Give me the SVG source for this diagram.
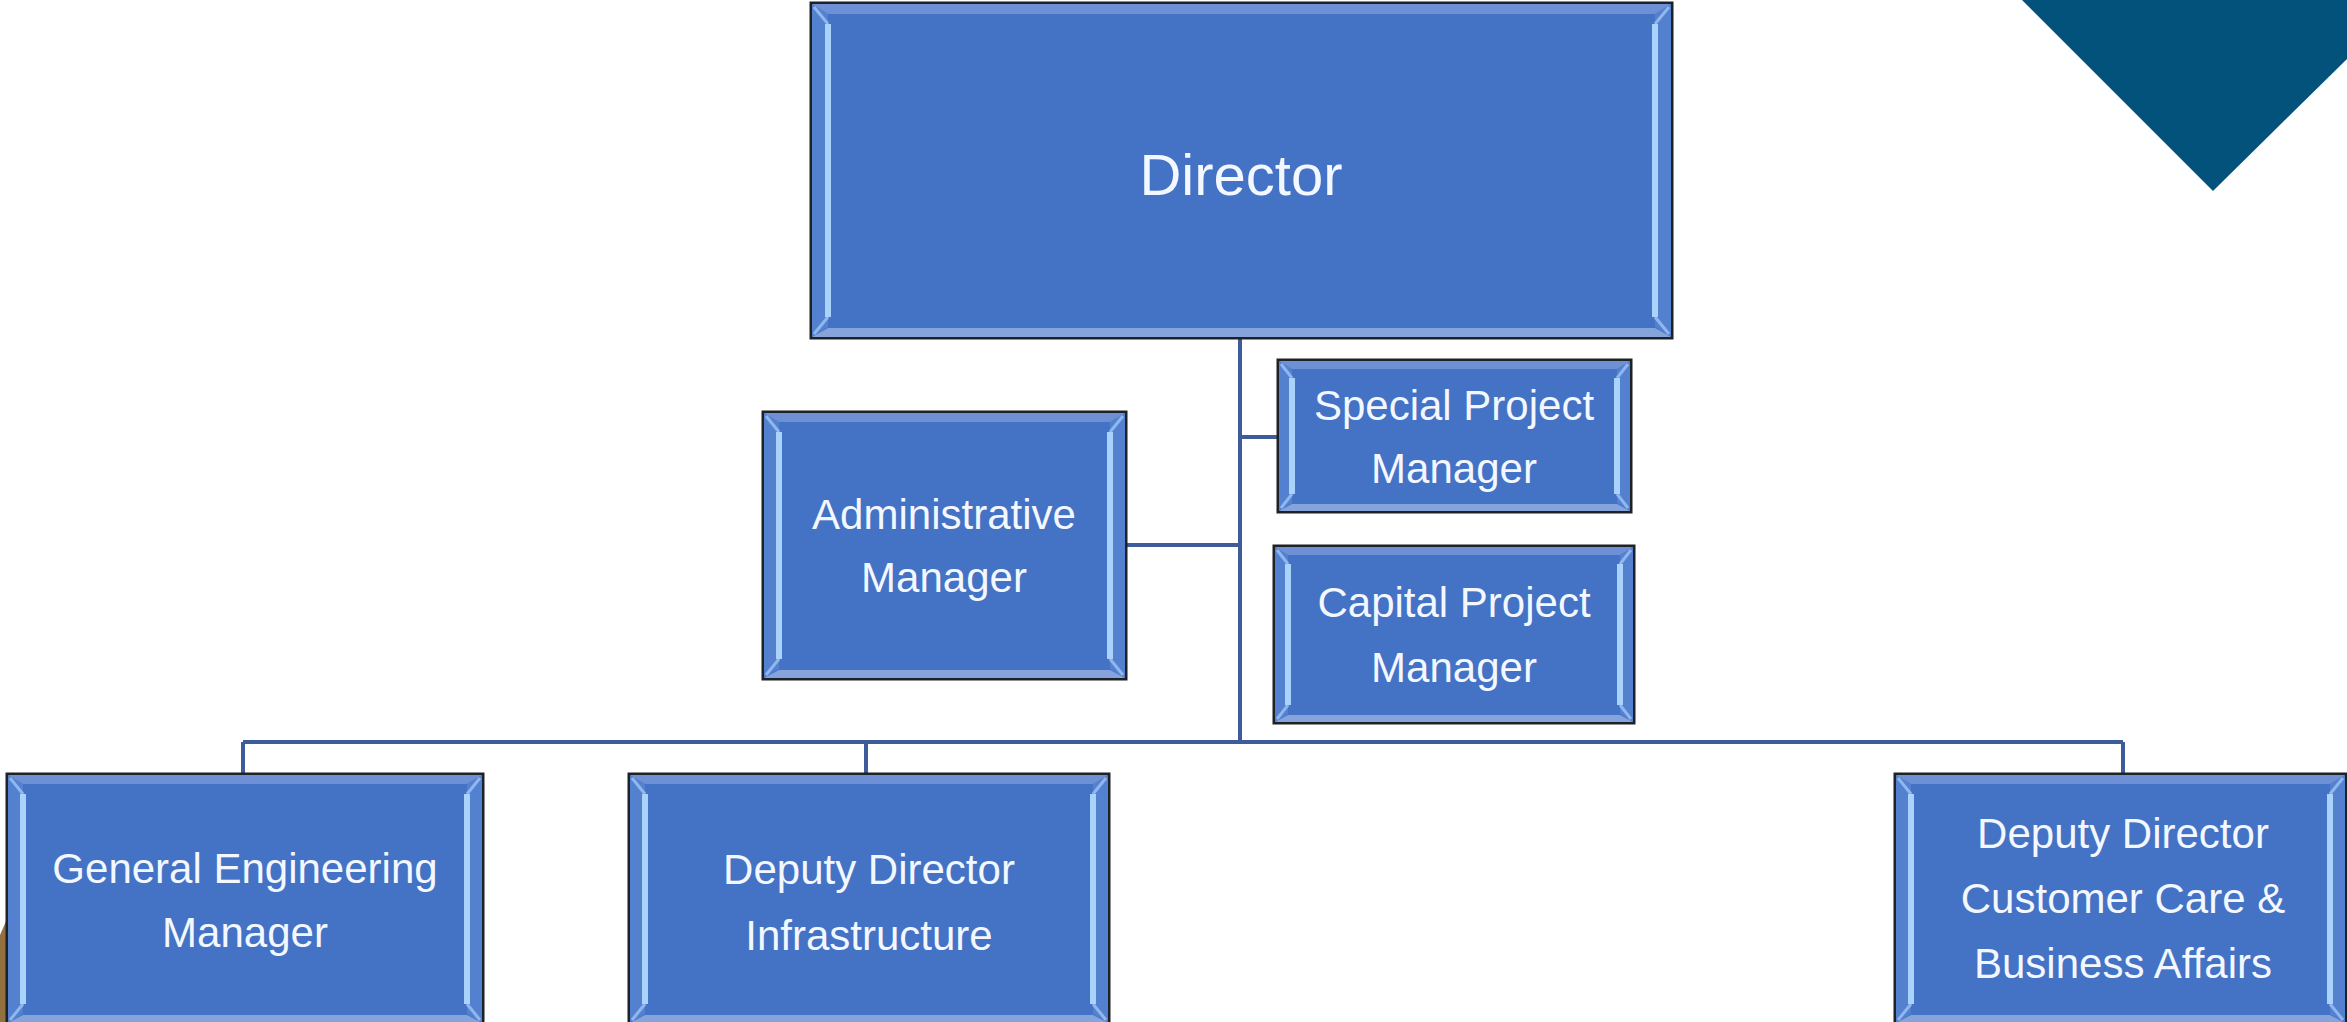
<svg xmlns="http://www.w3.org/2000/svg" width="2347" height="1022" viewBox="0 0 2347 1022">
<defs>
<style>
.box{fill:#4472C4;stroke:#1e2126;stroke-width:3}
.bt{fill:#6d91d4}
.bb{fill:#86a4dc}
.bs{fill:#5481cf}
.hl{stroke:#aad3fb;stroke-width:6;stroke-linecap:butt;fill:none}
.dg{stroke:#8fb7ee;stroke-width:3;fill:none}
.t{font-family:"Liberation Sans",Arial,sans-serif;font-size:42px;fill:#f3f7ff;text-anchor:middle}
.tb{font-size:58px}
.con{stroke:#3d5c99;stroke-width:4;fill:none}
</style>
</defs>
<rect width="2347" height="1022" fill="#ffffff"/>
<polygon points="2022,0 2347,0 2347,59 2213,191" fill="#02527c"/>
<polygon points="0,935 10,912 10,1022 0,1022" fill="#93703f"/>

<g id="connectors">
<line class="con" x1="1240" y1="338" x2="1240" y2="742"/>
<line class="con" x1="1126" y1="545" x2="1240" y2="545"/>
<line class="con" x1="1240" y1="437" x2="1278" y2="437"/>
<line class="con" x1="243" y1="742" x2="2123" y2="742"/>
<line class="con" x1="243" y1="742" x2="243" y2="774"/>
<line class="con" x1="866" y1="742" x2="866" y2="774"/>
<line class="con" x1="2123" y1="742" x2="2123" y2="774"/>
</g>

<g id="director">
<rect class="box" x="811" y="3" width="861" height="335"/>
<polygon class="bs" points="812,4 828,14 828,327 812,337"/>
<polygon class="bs" points="1671,4 1655,14 1655,327 1671,337"/>
<polygon class="bt" points="812,4 1671,4 1655,14 828,14"/>
<polygon class="bb" points="812,337 1671,337 1655,328 828,328"/>
<path class="dg" d="M814,7 L828,24 M1669,7 L1655,24 M814,334 L828,317 M1669,334 L1655,317"/>
<line class="hl" x1="828" y1="24" x2="828" y2="317"/>
<line class="hl" x1="1655" y1="24" x2="1655" y2="317"/>
<text class="t tb" x="1241" y="195">Director</text>
</g>

<g id="admin">
<rect class="box" x="763" y="412" width="363" height="267"/>
<polygon class="bs" points="764,413 779,422 779,669 764,678"/>
<polygon class="bs" points="1125,413 1110,422 1110,669 1125,678"/>
<polygon class="bt" points="764,413 1125,413 1110,422 779,422"/>
<polygon class="bb" points="764,678 1125,678 1110,670 779,670"/>
<path class="dg" d="M766,416 L779,432 M1123,416 L1110,432 M766,675 L779,659 M1123,675 L1110,659"/>
<line class="hl" x1="779" y1="432" x2="779" y2="659"/>
<line class="hl" x1="1110" y1="432" x2="1110" y2="659"/>
<text class="t" x="944" y="529">Administrative</text>
<text class="t" x="944" y="592">Manager</text>
</g>

<g id="special">
<rect class="box" x="1278" y="360" width="353" height="152"/>
<polygon class="bs" points="1279,361 1292,369 1292,503 1279,511"/>
<polygon class="bs" points="1630,361 1617,369 1617,503 1630,511"/>
<polygon class="bt" points="1279,361 1630,361 1617,369 1292,369"/>
<polygon class="bb" points="1279,511 1630,511 1617,504 1292,504"/>
<path class="dg" d="M1281,364 L1292,378 M1628,364 L1617,378 M1281,508 L1292,494 M1628,508 L1617,494"/>
<line class="hl" x1="1292" y1="378" x2="1292" y2="494"/>
<line class="hl" x1="1617" y1="378" x2="1617" y2="494"/>
<text class="t" x="1454" y="420">Special Project</text>
<text class="t" x="1454" y="483">Manager</text>
</g>

<g id="capital">
<rect class="box" x="1274" y="546" width="360" height="177"/>
<polygon class="bs" points="1275,547 1288,555 1288,714 1275,722"/>
<polygon class="bs" points="1633,547 1620,555 1620,714 1633,722"/>
<polygon class="bt" points="1275,547 1633,547 1620,555 1288,555"/>
<polygon class="bb" points="1275,722 1633,722 1620,715 1288,715"/>
<path class="dg" d="M1277,550 L1288,564 M1631,550 L1620,564 M1277,719 L1288,705 M1631,719 L1620,705"/>
<line class="hl" x1="1288" y1="564" x2="1288" y2="705"/>
<line class="hl" x1="1620" y1="564" x2="1620" y2="705"/>
<text class="t" x="1454" y="617">Capital Project</text>
<text class="t" x="1454" y="682">Manager</text>
</g>

<g id="gem">
<rect class="box" x="7" y="774" width="476" height="250"/>
<polygon class="bs" points="8,775 23,784 23,1014 8,1023"/>
<polygon class="bs" points="482,775 467,784 467,1014 482,1023"/>
<polygon class="bt" points="8,775 482,775 467,784 23,784"/>
<polygon class="bb" points="8,1023 482,1023 467,1015 23,1015"/>
<path class="dg" d="M10,778 L23,794 M480,778 L467,794 M10,1020 L23,1004 M480,1020 L467,1004"/>
<line class="hl" x1="23" y1="794" x2="23" y2="1004"/>
<line class="hl" x1="467" y1="794" x2="467" y2="1004"/>
<text class="t" x="245" y="883">General Engineering</text>
<text class="t" x="245" y="947">Manager</text>
</g>

<g id="infra">
<rect class="box" x="629" y="774" width="480" height="250"/>
<polygon class="bs" points="630,775 645,784 645,1014 630,1023"/>
<polygon class="bs" points="1108,775 1093,784 1093,1014 1108,1023"/>
<polygon class="bt" points="630,775 1108,775 1093,784 645,784"/>
<polygon class="bb" points="630,1023 1108,1023 1093,1015 645,1015"/>
<path class="dg" d="M632,778 L645,794 M1106,778 L1093,794 M632,1020 L645,1004 M1106,1020 L1093,1004"/>
<line class="hl" x1="645" y1="794" x2="645" y2="1004"/>
<line class="hl" x1="1093" y1="794" x2="1093" y2="1004"/>
<text class="t" x="869" y="884">Deputy Director</text>
<text class="t" x="869" y="950">Infrastructure</text>
</g>

<g id="ddcc">
<rect class="box" x="1895" y="774" width="451" height="250"/>
<polygon class="bs" points="1896,775 1911,784 1911,1014 1896,1023"/>
<polygon class="bs" points="2345,775 2330,784 2330,1014 2345,1023"/>
<polygon class="bt" points="1896,775 2345,775 2330,784 1911,784"/>
<polygon class="bb" points="1896,1023 2345,1023 2330,1015 1911,1015"/>
<path class="dg" d="M1898,778 L1911,794 M2343,778 L2330,794 M1898,1020 L1911,1004 M2343,1020 L2330,1004"/>
<line class="hl" x1="1911" y1="794" x2="1911" y2="1004"/>
<line class="hl" x1="2330" y1="794" x2="2330" y2="1004"/>
<text class="t" x="2123" y="848">Deputy Director</text>
<text class="t" x="2123" y="913">Customer Care &amp;</text>
<text class="t" x="2123" y="978">Business Affairs</text>
</g>
</svg>
